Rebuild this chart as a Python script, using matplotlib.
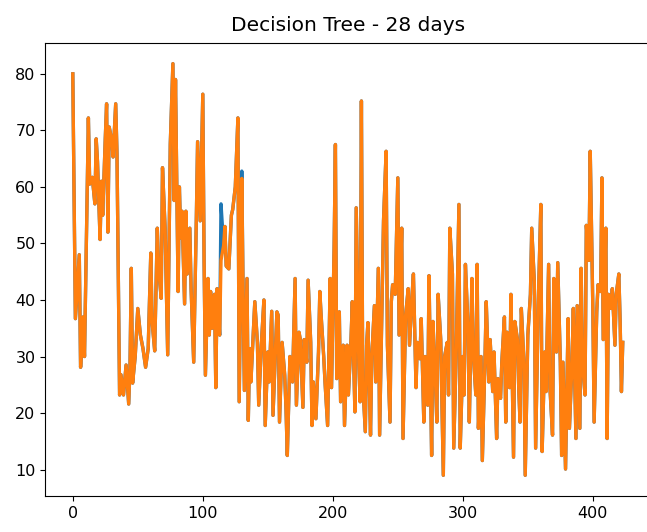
import matplotlib
matplotlib.use("Agg")
import matplotlib.pyplot as plt

days = [0, 2, 5, 6, 8, 9, 12, 13, 15, 17, 18, 19, 21, 22, 23, 25, 26, 27, 28, 30,
        31, 33, 34, 36, 37, 39, 41, 43, 44, 45, 46, 48, 50, 52, 54, 56, 58, 60, 61, 63,
        65, 66, 68, 69, 71, 73, 75, 77, 78, 79, 81, 82, 83, 84, 86, 87, 88, 90, 91, 93,
        95, 96, 98, 100, 101, 102, 104, 105, 106, 107, 109, 110, 111, 113, 114, 116, 117, 118, 120, 122,
        123, 125, 127, 128, 130, 131, 132, 134, 135, 136, 137, 140, 142, 143, 145, 147, 148, 150, 151, 153,
        154, 157, 158, 159, 161, 163, 164, 165, 167, 169, 171, 172, 174, 175, 177, 178, 180, 181, 183, 184,
        185, 187, 189, 190, 191, 193, 194, 196, 198, 199, 201, 202, 203, 205, 206, 208, 209, 211, 212, 214,
        215, 217, 218, 220, 221, 222, 223, 225, 226, 227, 229, 230, 232, 233, 235, 236, 238, 239, 241, 242,
        244, 245, 246, 248, 250, 251, 253, 254, 256, 258, 259, 261, 262, 264, 265, 267, 268, 270, 271, 273,
        274, 276, 277, 279, 280, 281, 283, 285, 286, 288, 289, 290, 292, 293, 295, 297, 298, 300, 301, 302,
        304, 305, 307, 308, 310, 311, 312, 314, 315, 317, 318, 320, 321, 323, 324, 326, 327, 329, 330, 332,
        333, 334, 336, 337, 339, 340, 342, 343, 344, 345, 347, 348, 350, 352, 353, 355, 356, 358, 360, 361,
        363, 364, 366, 367, 369, 370, 372, 373, 375, 376, 377, 379, 381, 382, 384, 385, 387, 388, 390, 391,
        392, 394, 395, 397, 398, 400, 401, 403, 404, 406, 407, 408, 410, 411, 412, 414, 415, 417, 418, 420,
        421, 422, 423]

actual = [80, 36.7, 48, 28.1, 37, 30, 72.2, 60.5, 61.7, 57, 68.5, 64.5, 50.7, 61, 55, 68.6, 74.7, 52, 70.6, 68.2,
          65.3, 74.7, 65.8, 23.2, 26.8, 23.2, 28.5, 21.6, 28, 45.6, 25.3, 30, 38.5, 33.8, 31.4, 28.1, 31.4, 48.3, 36.2, 31,
          52.7, 45.6, 40.3, 63.4, 52.7, 30.3, 67.6, 81.8, 57.6, 79, 41.5, 60, 51, 55.7, 39.3, 55.7, 44.6, 52.7, 42, 29,
          54, 68, 54, 76.4, 46.7, 26.7, 43.8, 33.8, 41.5, 35, 41, 24.5, 42, 33.8, 57, 49.6, 53, 46, 45.5, 55,
          56, 60, 72.2, 22, 62.8, 41, 24, 43.8, 18.7, 31.4, 25.5, 39.7, 32.5, 21.4, 32, 40, 17.8, 30.8, 25.5, 38,
          19.6, 37.9, 37.3, 18.4, 32.5, 26.7, 20.8, 12.5, 30, 25.5, 43.8, 21.4, 34.3, 33, 21, 33, 29, 43.5, 32.5, 17.8,
          25.5, 19, 30.8, 41.5, 37.3, 30, 25.5, 17.8, 43.8, 24.5, 49.1, 67.5, 26.1, 37.9, 22, 32, 17.8, 32, 23.2, 33,
          39.7, 20.2, 56.3, 29, 22, 75.2, 25.5, 16.7, 32, 36, 16.1, 30, 39, 25.5, 45.6, 16.1, 41, 54, 66.3, 32,
          18.4, 39.7, 42.7, 41, 61.6, 33.8, 52.7, 15.5, 37.3, 42, 32, 41, 44.6, 24.5, 32.5, 29.6, 36.7, 18.4, 30, 21.4,
          44.3, 12.5, 36.2, 25.5, 18.4, 41, 33, 9, 30, 32.5, 23.2, 52.7, 44.6, 13.8, 31.4, 56.9, 13.8, 30, 23.2, 46.3,
          35, 18.4, 43.8, 30.8, 23.2, 46.3, 17.3, 30, 11.6, 29, 39.7, 25.5, 33, 23.8, 30.8, 15.5, 26.1, 22.6, 29, 37,
          18.4, 34.3, 24.5, 41, 12.2, 36.2, 33, 24.5, 18.4, 38.5, 29, 9, 33.8, 41, 52.7, 43.2, 13.8, 39, 56.9, 13.2,
          30.8, 23.8, 46.3, 24.5, 16.1, 43.8, 30.8, 46.6, 29, 12.5, 29, 10.1, 36.7, 17.3, 29, 38.5, 15.5, 39, 17.3, 45.6,
          29, 23.2, 53.2, 47, 66.3, 38.5, 18.4, 37.9, 42.7, 41.5, 61.6, 33, 52.7, 15.5, 41, 38.5, 42, 32, 41, 44.6,
          36.2, 23.8, 32.5]

predicted = [80, 36.7, 48, 28.1, 37, 30, 72.2, 60.5, 61.7, 57, 68.5, 64.5, 50.7, 61, 55, 68.6, 74.7, 52, 70.6, 68.2,
             65.3, 74.7, 65.8, 23.2, 26.8, 23.2, 28.5, 21.6, 28, 45.6, 25.3, 30, 38.5, 33.8, 31.4, 28.1, 31.4, 48.3, 36.2, 31,
             52.7, 45.6, 40.3, 63.4, 52.7, 30.3, 67.6, 81.8, 57.6, 79, 41.5, 60, 51, 55.7, 39.3, 55.7, 44.6, 52.7, 42, 29,
             54, 68, 54, 76.4, 46.7, 26.7, 43.8, 33.8, 41.5, 35, 41, 24.5, 42, 33.8, 47, 49.6, 53, 46, 45.5, 55,
             56, 60, 72.2, 22, 61.5, 41, 24, 43.8, 18.7, 31.4, 25.5, 39.7, 32.5, 21.4, 32, 40, 17.8, 30.8, 25.5, 38,
             19.6, 37.9, 37.3, 18.4, 32.5, 26.7, 20.8, 12.5, 30, 25.5, 43.8, 21.4, 34.3, 33, 21, 33, 29, 43.5, 32.5, 17.8,
             25.5, 19, 30.8, 41.5, 37.3, 30, 25.5, 17.8, 43.8, 24.5, 49.1, 67.5, 26.1, 37.9, 22, 32, 17.8, 32, 23.2, 33,
             39.7, 20.2, 56.3, 29, 22, 75.2, 25.5, 16.7, 32, 36, 16.1, 30, 39, 25.5, 45.6, 16.1, 41, 54, 66.3, 32,
             18.4, 39.7, 42.7, 41, 61.6, 33.8, 52.7, 15.5, 37.3, 42, 32, 41, 44.6, 24.5, 32.5, 29.6, 36.7, 18.4, 30, 21.4,
             44.3, 12.5, 36.2, 25.5, 18.4, 41, 33, 9, 30, 32.5, 23.2, 52.7, 44.6, 13.8, 31.4, 56.9, 13.8, 30, 23.2, 46.3,
             35, 18.4, 43.8, 30.8, 23.2, 46.3, 17.3, 30, 11.6, 29, 39.7, 25.5, 33, 23.8, 30.8, 15.5, 26.1, 22.6, 29, 37,
             18.4, 34.3, 24.5, 41, 12.2, 36.2, 33, 24.5, 18.4, 38.5, 29, 9, 33.8, 41, 52.7, 43.2, 13.8, 39, 56.9, 13.2,
             30.8, 23.8, 46.3, 24.5, 16.1, 43.8, 30.8, 46.6, 29, 12.5, 29, 10.1, 36.7, 17.3, 29, 38.5, 15.5, 39, 17.3, 45.6,
             29, 23.2, 53.2, 47, 66.3, 38.5, 18.4, 37.9, 42.7, 41.5, 61.6, 33, 52.7, 15.5, 41, 38.5, 42, 32, 41, 44.6,
             36.2, 23.8, 32.5]

fig = plt.figure(figsize=(6.47, 5.32), dpi=100)
# the saved image cuts off the right spine, so the axes run slightly past the edge
ax = fig.add_axes([0.070, 0.068, 0.935, 0.851])

ax.plot(days, actual, color="#1f77b4", linewidth=2.4)
ax.plot(days, predicted, color="#ff7f0e", linewidth=2.4)

ax.set_title("Decision Tree - 28 days", fontsize=14.5, pad=9)
ax.tick_params(labelsize=11.5)

fig.savefig("out.png", dpi=100)
